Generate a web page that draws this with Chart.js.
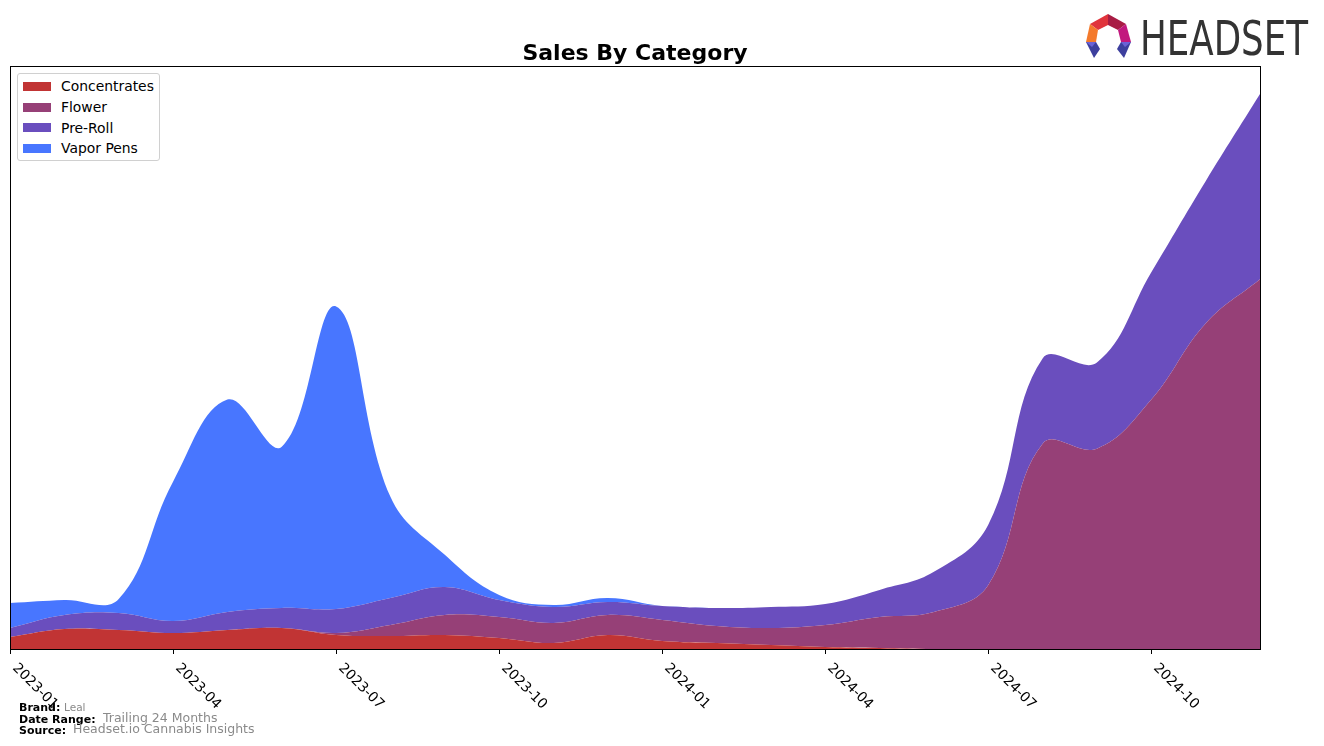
<!DOCTYPE html>
<html>
<head>
<meta charset="utf-8">
<title>Sales By Category</title>
<script src="https://cdn.jsdelivr.net/npm/chart.js@4.4.1/dist/chart.umd.min.js"></script>
<style>
    html, body { margin: 0; padding: 0; background: #fff; }
    #wrap { position: relative; width: 1324px; height: 746px; overflow: hidden; font-family: "DejaVu Sans", sans-serif; }
    #salesChart { position: absolute; left: 0; top: 0; }
    .abs { position: absolute; white-space: nowrap; line-height: 1; }
    #title { left: 10px; width: 1250px; top: 42px; text-align: center; font-size: 22px; font-weight: bold; color: #000; }
    #legend { position: absolute; left: 17px; top: 73px; width: 141px; height: 86px; background: #fff;
              border: 1px solid #d0d0d0; border-radius: 3px; }
    .lg-patch { position: absolute; width: 28px; height: 9px; }
    .lg-text { position: absolute; font-size: 13.9px; line-height: 1; color: #000; white-space: nowrap; }
    .ft-key { font-size: 11px; font-weight: bold; color: #000; }
    .ft-val { color: #8a8a8a; }
</style>
</head>
<body>
<div id="wrap">
    <canvas id="salesChart" width="1324" height="746"></canvas>
    <div id="title" class="abs">Sales By Category</div>
    <div id="legend"></div>

    <div class="abs ft-key" style="left:19px; top:701.7px;">Brand:</div>
    <div class="abs ft-val" style="left:64px; top:702.1px; font-size:10.5px;">Leal</div>
    <div class="abs ft-key" style="left:19px; top:713.7px;">Date Range:</div>
    <div class="abs ft-val" style="left:103px; top:712.4px; font-size:12.5px;">Trailing 24 Months</div>
    <div class="abs ft-key" style="left:19px; top:724.7px;">Source:</div>
    <div class="abs ft-val" style="left:73px; top:723.4px; font-size:12.5px;">Headset.io Cannabis Insights</div>

    <svg class="abs" style="left:1080px; top:10px;" width="240" height="56" viewBox="0 0 240 56">
        <g transform="translate(6,4)">
            <polygon points="4,10 22,0 22,11 12,16" fill="#e0343c"/>
            <polygon points="22,0 40,10 32,16 22,11" fill="#a81c44"/>
            <polygon points="4,10 12,16 10,28 0,28" fill="#f47a2c"/>
            <polygon points="40,10 45,28 35,28 32,16" fill="#c2187e"/>
            <polygon points="0,28 10,28 14,35 8,44" fill="#3d3f9e"/>
            <polygon points="0,28 10,28 6,33" fill="#6b62d6"/>
            <polygon points="35,28 45,28 38,44 31,35" fill="#3d3f9e"/>
            <polygon points="35,28 45,28 39,33" fill="#6b62d6"/>
        </g>
        <text x="60" y="45" font-family="DejaVu Sans Condensed, DejaVu Sans, sans-serif" font-size="48"
              fill="#333" textLength="168" lengthAdjust="spacingAndGlyphs">HEADSET</text>
    </svg>
</div>

<script>
// Monthly sales, trailing 24 months (arbitrary units)
const months = [
    '2023-01', '2023-02', '2023-03', '2023-04', '2023-05', '2023-06',
    '2023-07', '2023-08', '2023-09', '2023-10', '2023-11', '2023-12',
    '2024-01', '2024-02', '2024-03', '2024-04', '2024-05', '2024-06',
    '2024-07', '2024-08', '2024-09', '2024-10', '2024-11', '2024-12'
];
const tickLabels = ['2023-01', '2023-04', '2023-07', '2023-10', '2024-01', '2024-04', '2024-07', '2024-10'];

const concentrates = [12, 20, 19, 16, 19, 21, 14, 13, 14, 11, 6, 14, 8, 6, 4, 2, 1, 0, 0, 0, 0, 0, 0, 0];
const flower = [0, 0, 0, 0, 0, 0, 2, 11, 20, 21, 20, 20, 21, 17, 17, 22, 31, 37, 64, 205, 200, 249, 325, 369];
const preRoll = [9, 14, 17, 12, 18, 20, 24, 27, 28, 17, 16, 13, 14, 18, 21, 21, 27, 40, 60, 85, 86, 127, 142, 185];
const vaporPens = [25, 15, 14, 139, 212, 161, 302, 101, 32, 5, 2, 4, 0, 0, 0, 0, 0, 0, 0, 0, 0, 0, 0, 0];

const seriesNames = ['Concentrates', 'Flower', 'Pre-Roll', 'Vapor Pens'];
const seriesColors = ['#c13434', '#964077', '#6a4ebe', '#4876ff'];

// frame, tick marks and rotated tick labels (matplotlib look)
const axisDecor = {
    id: 'axisDecor',
    afterDraw(chart) {
        const { ctx, chartArea } = chart;
        const x = chart.scales.x;
        ctx.save();
        ctx.strokeStyle = '#000';
        ctx.lineWidth = 1;
        ctx.strokeRect(Math.round(chartArea.left) + 0.5, Math.round(chartArea.top) + 0.5,
            Math.round(chartArea.right - chartArea.left), Math.round(chartArea.bottom - chartArea.top));

        ctx.fillStyle = '#000';
        ctx.font = '13.9px "DejaVu Sans", sans-serif';
        ctx.textAlign = 'left';
        ctx.textBaseline = 'alphabetic';
        tickLabels.forEach(label => {
            const px = Math.round(x.getPixelForValue(months.indexOf(label))) + 0.5;
            ctx.beginPath();
            ctx.moveTo(px, chartArea.bottom);
            ctx.lineTo(px, chartArea.bottom + 5);
            ctx.stroke();

            ctx.save();
            ctx.translate(px + 1.5, chartArea.bottom + 19.5);
            ctx.rotate(Math.PI / 4);
            ctx.fillText(label, 0, 0);
            ctx.restore();
        });
        ctx.restore();
    }
};

function buildLegend() {
    const box = document.getElementById('legend');
    seriesNames.forEach((name, i) => {
        const patch = document.createElement('div');
        patch.className = 'lg-patch';
        patch.style.left = '5px';
        patch.style.top = (8 + i * 20.7) + 'px';
        patch.style.background = seriesColors[i];
        box.appendChild(patch);

        const text = document.createElement('div');
        text.className = 'lg-text';
        text.style.left = '43px';
        text.style.top = (6.2 + i * 20.7) + 'px';
        text.textContent = name;
        box.appendChild(text);
    });
}

function renderChart() {
    const ctx = document.getElementById('salesChart').getContext('2d');
    const values = [concentrates, flower, preRoll, vaporPens];

    new Chart(ctx, {
        type: 'line',
        data: {
            labels: months,
            datasets: values.map((data, i) => ({
                label: seriesNames[i],
                data: data,
                backgroundColor: seriesColors[i],
                borderColor: seriesColors[i],
                borderWidth: 0,
                fill: i === 0 ? 'origin' : '-1',
                tension: 0.4,
                pointRadius: 0
            }))
        },
        options: {
            responsive: false,
            animation: false,
            devicePixelRatio: 1,
            layout: { padding: { left: 10, right: 64, top: 66, bottom: 97 } },
            plugins: {
                legend: { display: false },
                tooltip: { enabled: false },
                title: { display: false }
            },
            scales: {
                x: { type: 'category', display: false, offset: false },
                y: { display: false, stacked: true, min: 0, max: 582 }
            }
        },
        plugins: [axisDecor]
    });
}

buildLegend();
renderChart();
</script>
</body>
</html>
